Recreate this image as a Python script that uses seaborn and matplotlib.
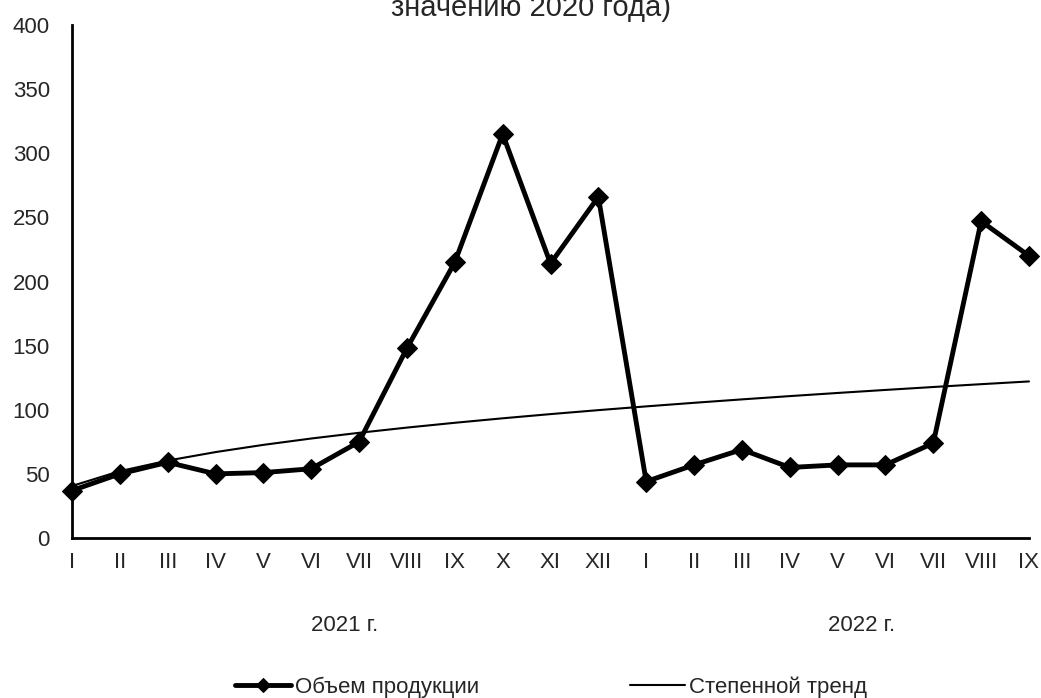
import numpy as np
import pandas as pd
import matplotlib.pyplot as plt
import seaborn as sns

months = ['I', 'II', 'III', 'IV', 'V', 'VI', 'VII', 'VIII', 'IX', 'X', 'XI', 'XII',
          'I', 'II', 'III', 'IV', 'V', 'VI', 'VII', 'VIII', 'IX']
volume = [37, 50, 59, 50, 51, 54, 75, 148, 215, 315, 214, 266,
          44, 57, 69, 55, 57, 57, 74, 247, 220]
years = ['2021 г.', '2022 г.']

df = pd.DataFrame({'pos': np.arange(len(volume)), 'volume': volume})

# power trend fitted like Excel: ln y = ln a + b ln x
t = df['pos'] + 1
b, ln_a = np.polyfit(np.log(t), np.log(df['volume']), 1)
df['trend'] = np.exp(ln_a) * t ** b

sns.set_style('white')
plt.rcParams['font.family'] = ['Liberation Sans', 'DejaVu Sans']

fig = plt.figure(figsize=(10.41, 6.98), dpi=100)
ax = fig.add_axes([72 / 1041, 1 - 538 / 698, (1029 - 72) / 1041, (538 - 25) / 698])

sns.lineplot(data=df, x='pos', y='volume', ax=ax, color='black', linewidth=3.5,
             marker='D', markersize=10, markeredgecolor='black', label='Объем продукции')
sns.lineplot(data=df, x='pos', y='trend', ax=ax, color='black', linewidth=1.5,
             label='Степенной тренд')

ax.set_xlim(0, len(volume) - 1)
ax.set_ylim(0, 400)
ax.set_yticks(range(0, 401, 50))
ax.set_xticks(df['pos'])
ax.set_xticklabels(months)
ax.set_xlabel('')
ax.set_ylabel('')
ax.tick_params(axis='both', labelsize=16, direction='out', length=5, width=1.5,
               color='black')
ax.tick_params(axis='y', pad=11)
ax.tick_params(axis='x', pad=5)
for side in ['top', 'right']:
    ax.spines[side].set_visible(False)
for side in ['left', 'bottom']:
    ax.spines[side].set_color('black')
    ax.spines[side].set_linewidth(2)
for ln in ax.lines:
    ln.set_clip_on(False)

ax.text(5.7, -68, years[0], ha='center', va='center', fontsize=16)
ax.text(16.5, -68, years[1], ha='center', va='center', fontsize=16)

# title is cut at the top edge, as in the source picture
fig.text(531 / 1041, 1 - 16 / 698, 'значению 2020 года)', ha='center', va='baseline',
         fontsize=21)

handles, labels = ax.get_legend_handles_labels()
ax.get_legend().remove()
fig.legend(handles, labels, loc='center left', bbox_to_anchor=(235 / 1041, 1 - 687 / 698),
           ncol=2, frameon=False, fontsize=16, handlelength=2.5, handletextpad=0.18,
           columnspacing=6.8, borderpad=0, borderaxespad=0, markerscale=0.7)

fig.savefig('out.png', dpi=100)
